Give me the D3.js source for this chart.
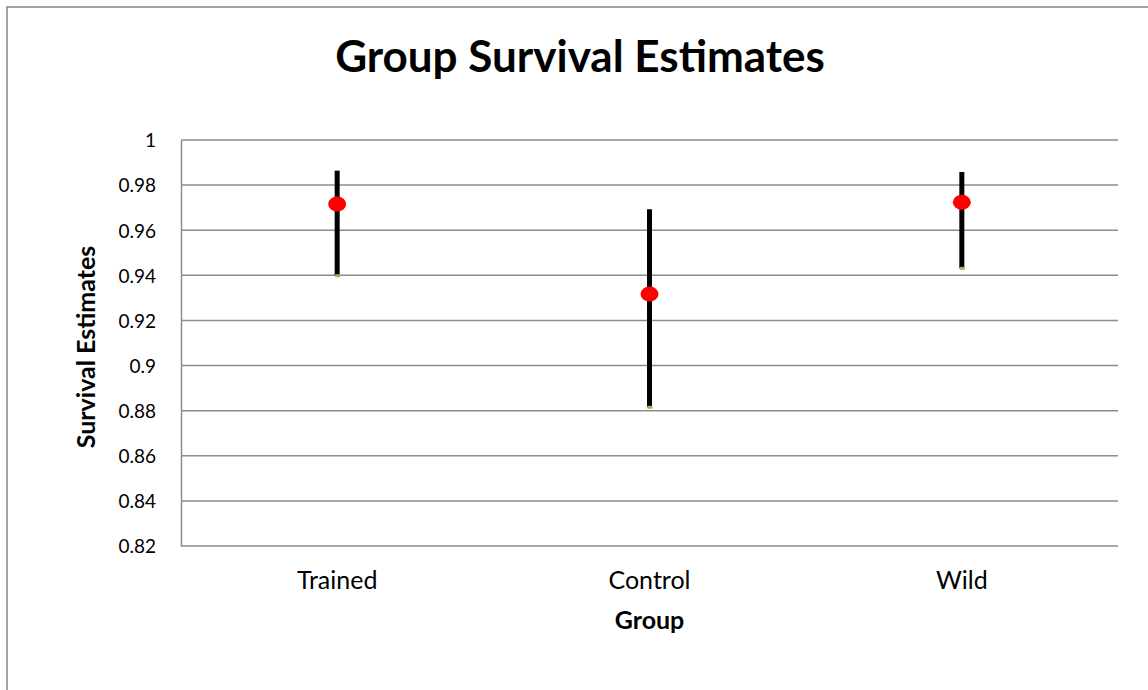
<!DOCTYPE html>
<html>
<head>
<meta charset="utf-8">
<script src="https://cdnjs.cloudflare.com/ajax/libs/d3/7.8.5/d3.min.js"></script>
<style>
    body { margin: 0; background: #fff; }
    svg text { font-family: Lato, "Open Sans", sans-serif; fill: #000; }
</style>
</head>
<body>
<div id="chart"></div>
<script>
// values
let groups = ["Trained", "Control", "Wild"];
let estimates = [0.9716, 0.9317, 0.9724];
let upperBounds = [0.9864, 0.9693, 0.9858];
let lowerBounds = [0.9398, 0.8815, 0.9431];
let yTicks = [0.82, 0.84, 0.86, 0.88, 0.9, 0.92, 0.94, 0.96, 0.98, 1];

let width = 1148, height = 690;
let margin = {top: 140, right: 30, bottom: 144, left: 181};

let svg = d3.select("#chart").append("svg")
    .attr("width", width)
    .attr("height", height);

// chart border (runs off right/bottom like the original)
svg.append("rect")
    .attr("x", 7)
    .attr("y", 7)
    .attr("width", width + 10)
    .attr("height", height + 10)
    .attr("fill", "none")
    .attr("stroke", "#868686")
    .attr("stroke-width", 1.5);

let x = d3.scaleBand()
    .domain(groups)
    .range([margin.left, width - margin.right]);

let y = d3.scaleLinear()
    .domain([0.82, 1])
    .range([height - margin.bottom, margin.top]);

// gridlines
svg.append("g")
    .selectAll("line")
    .data(yTicks)
    .enter().append("line")
    .attr("x1", margin.left)
    .attr("x2", width - margin.right)
    .attr("y1", (d)=>y(d))
    .attr("y2", (d)=>y(d))
    .attr("stroke", "#8c8c8c")
    .attr("stroke-width", 1.5);

// left axis
let yAxis = d3.axisLeft(y)
    .tickValues(yTicks)
    .tickSize(0)
    .tickPadding(25)
    .tickFormat((d)=>d3.format("")(+d.toFixed(2)));

let yAx = svg.append("g")
    .attr("transform", "translate(" + margin.left + ",0)")
    .call(yAxis);
yAx.select(".domain").attr("stroke", "#8c8c8c").attr("stroke-width", 1.5);
yAx.selectAll("text").style("font-size", "19px").attr("dy", "0.36em");

// bottom axis labels
let xAxis = d3.axisBottom(x).tickSize(0).tickPadding(25);
let xAx = svg.append("g")
    .attr("transform", "translate(0," + y(0.82) + ")")
    .call(xAxis);
xAx.select(".domain").remove();
xAx.selectAll("text").style("font-size", "25px");

// error bars
let bars = svg.append("g");
groups.forEach((g, i)=>{
    let cx = x(g) + x.bandwidth() / 2;
    bars.append("line")
        .attr("x1", cx).attr("x2", cx)
        .attr("y1", y(upperBounds[i]))
        .attr("y2", y(lowerBounds[i]))
        .attr("stroke", "#000")
        .attr("stroke-width", 5);
    bars.append("rect")
        .attr("x", cx - 2)
        .attr("y", y(lowerBounds[i]) - 1.5)
        .attr("width", 5)
        .attr("height", 3)
        .attr("fill", "#9bbb59");
    bars.append("ellipse")
        .attr("cx", cx)
        .attr("cy", y(estimates[i]))
        .attr("rx", 9)
        .attr("ry", 7.5)
        .attr("fill", "#ff0000");
});

// titles
svg.append("text")
    .attr("x", 580)
    .attr("y", 72)
    .attr("text-anchor", "middle")
    .style("font-size", "44px")
    .style("font-weight", "bold")
    .text("Group Survival Estimates");

svg.append("text")
    .attr("transform", "translate(95,347) rotate(-90)")
    .attr("text-anchor", "middle")
    .style("font-size", "25px")
    .style("font-weight", "bold")
    .text("Survival Estimates");

svg.append("text")
    .attr("x", x("Control") + x.bandwidth() / 2)
    .attr("y", 629)
    .attr("text-anchor", "middle")
    .style("font-size", "25px")
    .style("font-weight", "bold")
    .text("Group");
</script>
</body>
</html>
